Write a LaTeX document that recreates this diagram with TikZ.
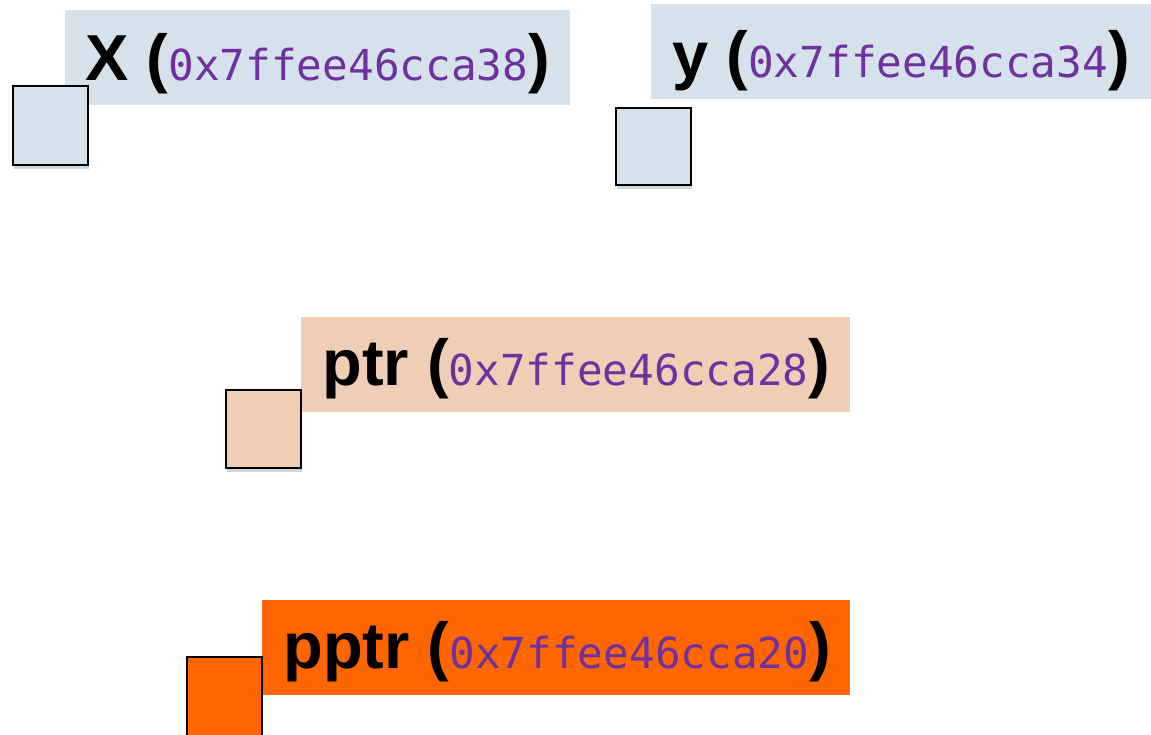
\documentclass[tikz,border=0pt]{standalone}
\usepackage{fontspec}
\usepackage{tikz}
\usetikzlibrary{shadows}
\newfontfamily\namefont{Liberation Sans}[BoldFont={Liberation Sans Bold}]
\newfontfamily\addrfont{DejaVu Sans Mono}
\definecolor{varblue}{HTML}{D5E2EC}
\definecolor{ptrpeach}{HTML}{F0CDB5}
\definecolor{pptrorange}{HTML}{FF6600}
\definecolor{addrpurple}{HTML}{7030A0}
\newcommand{\varname}[1]{{\namefont\bfseries\fontsize{37}{40}\selectfont #1}}
\newcommand{\addr}[1]{{\addrfont\fontsize{24.3}{28}\selectfont\color{addrpurple}#1}}
\tikzset{
  cellbox/.style={draw=black, line width=1.1pt, drop shadow={shadow xshift=0.5pt, shadow yshift=-2pt, opacity=0.35}},
  vartext/.style={anchor=base west, inner sep=0pt}
}

\begin{document}
\begin{tikzpicture}[x=0.02cm, y=-0.02cm]
\useasboundingbox (0,0) rectangle (1151,734);
% x
\fill[varblue] (65,10) rectangle (570,105);
\node[vartext] (xname) at (85,80) {\varname{X (}\addr{0x7ffee46cca38}\varname{)}};
\draw[cellbox, fill=varblue] (13,86) rectangle (88,165);
% y
\fill[varblue] (651,4) rectangle (1151,99);
\node[vartext] (yname) at (672,77) {\varname{y (}\addr{0x7ffee46cca34}\varname{)}};
\draw[cellbox, fill=varblue] (616,108) rectangle (691,185);
% ptr
\fill[ptrpeach] (301,317) rectangle (850,412);
\node[vartext] (ptrname) at (322,385) {\varname{ptr (}\addr{0x7ffee46cca28}\varname{)}};
\draw[cellbox, fill=ptrpeach] (226,390) rectangle (301,468);
% pptr
\fill[pptrorange] (262,600) rectangle (850,695);
\node[vartext] (pptrname) at (283,668) {\varname{pptr (}\addr{0x7ffee46cca20}\varname{)}};
\draw[cellbox, fill=pptrorange] (187,657) rectangle (262,740);
\end{tikzpicture}
\end{document}
